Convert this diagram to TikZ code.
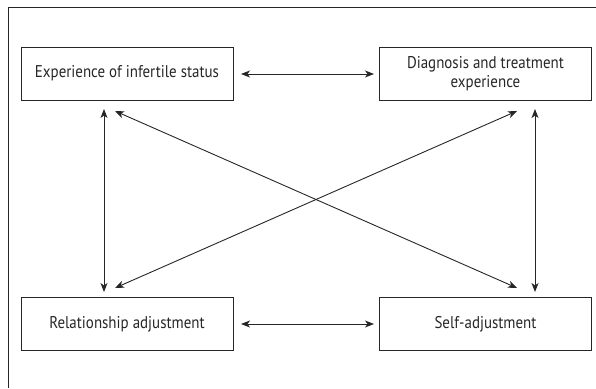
\documentclass[tikz,border=0pt]{standalone}
\usepackage{fontspec}
\setmainfont[FakeStretch=0.88]{PT Sans}
\usetikzlibrary{arrows.meta}
\begin{document}
\begin{tikzpicture}[x=1pt,y=-1pt,
  box/.style={draw=black!85,line width=0.9pt,minimum width=212pt,minimum height=53pt,inner sep=0pt,align=center,font=\fontsize{17}{19.5}\selectfont,text=black!85},
  link/.style={line width=0.9pt,draw=black!85,{Stealth[length=9pt,width=7pt,inset=2.5pt]}-{Stealth[length=9pt,width=7pt,inset=2.5pt]}}]
\useasboundingbox (0,0) rectangle (596,388);
\draw[line width=0.9pt,black!85] (8,388) -- (8,7) -- (596,7);
\node[box] (a) at (127,73.5) {Experience of infertile status};
\node[box] (b) at (485.5,73.5) {Diagnosis and treatment\\experience};
\node[box] (c) at (127,324) {Relationship adjustment};
\node[box] (d) at (485.5,324) {Self-adjustment};
\coordinate (a1) at (241,74);
\coordinate (b1) at (374,74);
\coordinate (c1) at (241,324);
\coordinate (d1) at (374,324);
\coordinate (a2) at (104,109);
\coordinate (c2) at (104,292);
\coordinate (b2) at (535,109);
\coordinate (d2) at (535,292);
\coordinate (a3) at (115,111);
\coordinate (d3) at (517,288);
\coordinate (b3) at (517,111);
\coordinate (c3) at (115,288);
\draw[link] (a1) -- (b1);
\draw[link] (c1) -- (d1);
\draw[link] (a2) -- (c2);
\draw[link] (b2) -- (d2);
\draw[link] (a3) -- (d3);
\draw[link] (b3) -- (c3);
\end{tikzpicture}
\end{document}
